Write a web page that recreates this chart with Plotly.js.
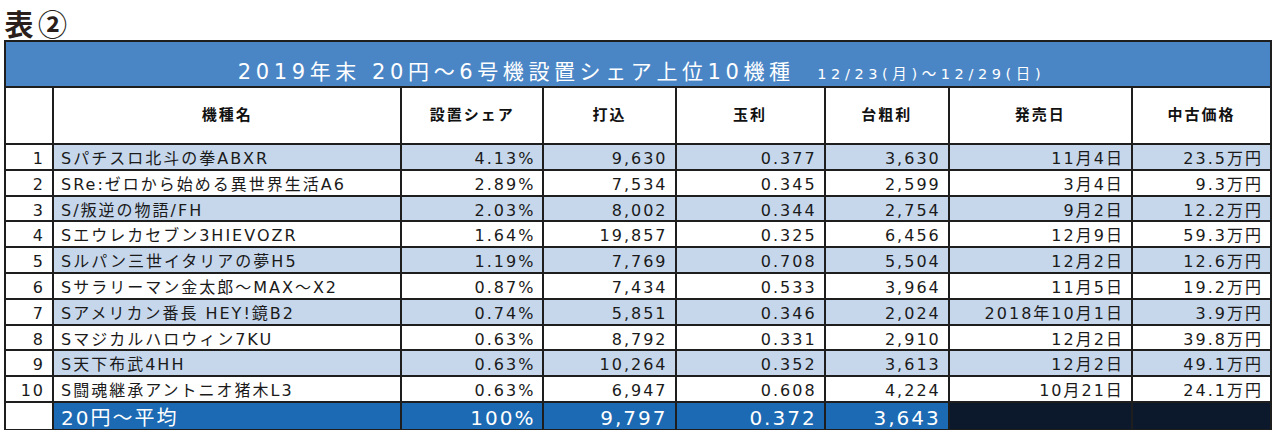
<!DOCTYPE html>
<html>
<head>
<meta charset="utf-8">
<script src="https://cdn.plot.ly/plotly-3.0.1.min.js"></script>
<style>
  html, body { margin: 0; padding: 0; background: #fff; }
  #chart { width: 1280px; height: 442px; }
  #chart text { letter-spacing: 2px; }
  #chart .annotation-text { letter-spacing: 4.6px; }
</style>
</head>
<body>
<div id="chart"></div>
<script>
// table data
const ranks = [1, 2, 3, 4, 5, 6, 7, 8, 9, 10];
const machines = [
  "Sパチスロ北斗の拳ABXR",
  "SRe:ゼロから始める異世界生活A6",
  "S/叛逆の物語/FH",
  "SエウレカセブンЗHIEVOZR".replace("З", "3"),
  "Sルパン三世イタリアの夢H5",
  "Sサラリーマン金太郎～MAX～X2",
  "Sアメリカン番長 HEY!鏡B2",
  "Sマジカルハロウィン7KU",
  "S天下布武4HH",
  "S闘魂継承アントニオ猪木L3",
];
const share = [4.13, 2.89, 2.03, 1.64, 1.19, 0.87, 0.74, 0.63, 0.63, 0.63];
const inCoins = [9630, 7534, 8002, 19857, 7769, 7434, 5851, 8792, 10264, 6947];
const ballProfit = [0.377, 0.345, 0.344, 0.325, 0.708, 0.533, 0.346, 0.331, 0.352, 0.608];
const grossProfit = [3630, 2599, 2754, 6456, 5504, 3964, 2024, 2910, 3613, 4224];
const releaseDate = ["11月4日", "3月4日", "9月2日", "12月9日", "12月2日", "11月5日",
  "2018年10月1日", "12月2日", "12月2日", "10月21日"];
const usedPrice = [23.5, 9.3, 12.2, 59.3, 12.6, 19.2, 3.9, 39.8, 49.1, 24.1];

const headers = ["", "機種名", "設置シェア", "打込", "玉利", "台粗利", "発売日", "中古価格"];
const avgLabel = "20円～平均";
const avgShare = 100;
const avgCoins = 9797;
const avgBall = 0.372;
const avgGross = 3643;

const W = 1280, H = 442;
const left = 5, right = 1271;
const bandTop = 41, bandBottom = 87, bodyBottom = 402, footBottom = 430;
const colWidths = [48, 348, 142, 132, 149, 124, 183, 139];
const py = (px) => 1 - px / H;

const cjk = "Noto Sans CJK JP, sans-serif";
const mixed = "DejaVu Sans, Noto Sans CJK JP, sans-serif";
const lineCol = "#1e1e1e";
const stripe = "#c6d7ec";
const rowFill = ranks.map((r) => (r % 2 === 1 ? stripe : "#ffffff"));
const fillCols = headers.map((h, i) => (i === 0 ? ranks.map(() => "#ffffff") : rowFill));

// a blank first line pushes the header label down to the middle of the tall header row
const mainTable = {
  type: "table",
  domain: { x: [left / W, right / W], y: [py(bodyBottom), py(bandBottom)] },
  columnwidth: colWidths,
  header: {
    values: headers.map((h) => "\u00a0<br><span style='font-size:15px'><b>" + h + "</b></span>"),
    height: 57,
    align: "center",
    fill: { color: "#ffffff" },
    line: { color: lineCol, width: 2 },
    font: { family: cjk, size: 10, color: "#111" },
  },
  cells: {
    values: [ranks, machines, share, inCoins, ballProfit, grossProfit, releaseDate, usedPrice],
    format: ["", "", ".2f", ",", ".3f", ",", "", ".1f"],
    suffix: ["", "", "%", "", "", "", "", "万円"],
    height: 25.8,
    align: ["right", "left", "right", "right", "right", "right", "right", "right"],
    fill: { color: fillCols },
    line: { color: lineCol, width: 2 },
    font: { family: mixed, size: 16, color: "#1a1a1a" },
  },
};

const footBlue = "#1b6ab3";
const footDark = "#0c182b";
const footTable = {
  type: "table",
  domain: { x: [left / W, right / W], y: [py(footBottom), py(bodyBottom)] },
  columnwidth: colWidths,
  header: {
    values: ["", avgLabel, avgShare + "%", avgCoins.toLocaleString("en-US"),
      avgBall.toFixed(3), avgGross.toLocaleString("en-US"), "", ""],
    height: 28,
    align: ["right", "left", "right", "right", "right", "right", "right", "right"],
    fill: { color: ["#ffffff", footBlue, footBlue, footBlue, footBlue, footBlue, footDark, footDark] },
    line: { color: lineCol, width: 2 },
    font: { family: mixed, size: 20, color: "#ffffff" },
  },
  cells: { values: headers.map(() => []) },
};

const layout = {
  width: W,
  height: H,
  margin: { l: 0, r: 0, t: 0, b: 0 },
  paper_bgcolor: "#ffffff",
  shapes: [{
    type: "rect", xref: "paper", yref: "paper",
    x0: left / W, x1: right / W, y0: py(bandBottom), y1: py(bandTop),
    fillcolor: "#4a86c6", line: { color: lineCol, width: 2 },
  }],
  annotations: [
    {
      xref: "paper", yref: "paper", x: 7 / W, y: py(23),
      xanchor: "left", yanchor: "middle", showarrow: false,
      text: "<b>表②</b>",
      font: { family: cjk, size: 29, color: "#2a1f1b" },
    },
    {
      xref: "paper", yref: "paper", x: 641 / W, y: py(72),
      xanchor: "center", yanchor: "middle", showarrow: false,
      text: "2019年末 20円～6号機設置シェア上位10機種\u00a0\u00a0<span style='font-size:14.5px'>12/23(月)～12/29(日)</span>",
      font: { family: mixed, size: 21, color: "#ffffff" },
    },
  ],
};

Plotly.newPlot("chart", [mainTable, footTable], layout, { displayModeBar: false, staticPlot: true });
</script>
</body>
</html>
